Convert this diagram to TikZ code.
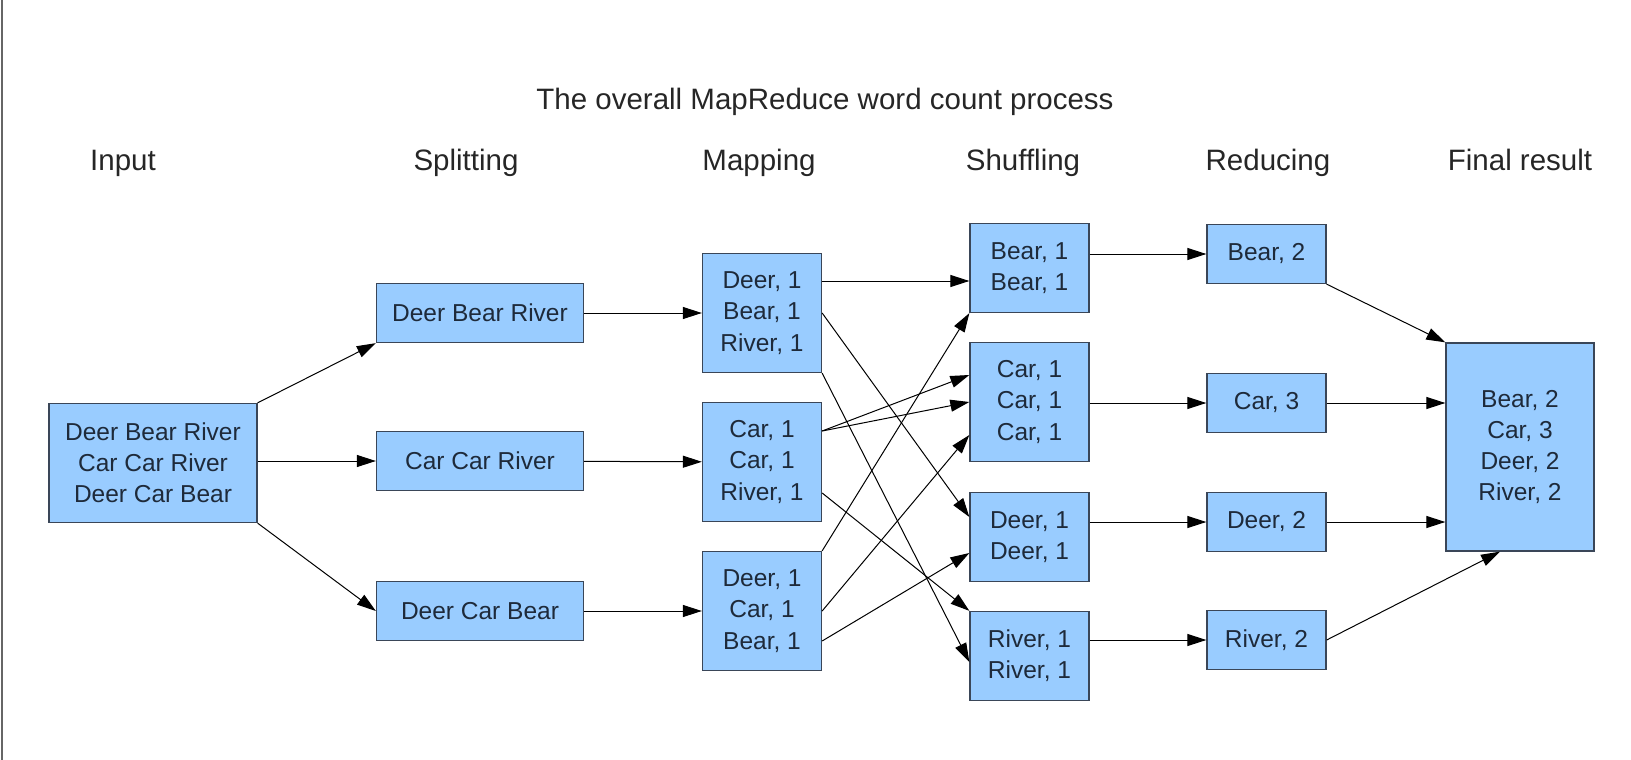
\documentclass[tikz,border=0pt]{standalone}
\usepackage{fontspec}
\setmainfont{Liberation Sans}
\usetikzlibrary{arrows.meta}
\definecolor{boxfill}{RGB}{153,204,255}
\definecolor{boxline}{RGB}{58,70,88}
\definecolor{boxtext}{RGB}{30,42,58}
\tikzstyle{wordbox}=[rectangle, draw=boxline, fill=boxfill, line width=1.3pt, inner sep=0pt, align=center, text=boxtext, font=\fontsize{24.5}{31.2}\selectfont]
\tikzstyle{heading}=[anchor=base, text=black!85, font=\fontsize{29.5}{35}\selectfont]

\begin{document}
\begin{tikzpicture}[x=1pt, y=-1pt, line width=1pt, >={Triangle[length=19pt, width=12pt]}]
                    \useasboundingbox (0,0) rectangle (1631,760);
                    \draw[black!60, line width=2pt] (1.5,0) -- (1.5,760);
                    \node[heading] (title) at (825,110) {The overall MapReduce word count process};
                    \node[heading] (hin) at (123,170) {Input};
                    \node[heading] (hsplit) at (466,170) {Splitting};
                    \node[heading] (hmap) at (759,170) {Mapping};
                    \node[heading] (hshuf) at (1023,170) {Shuffling};
                    \node[heading] (hred) at (1268,170) {Reducing};
                    \node[heading] (hfin) at (1520,170) {Final result};
                    \node[wordbox, minimum width=208pt, minimum height=119pt] (in) at (153,463) {Deer Bear River\\Car Car River\\Deer Car Bear};
                    \node[wordbox, minimum width=207pt, minimum height=59pt] (sp1) at (480,313) {Deer Bear River};
                    \node[wordbox, minimum width=207pt, minimum height=59pt] (sp2) at (480,461) {Car Car River};
                    \node[wordbox, minimum width=207pt, minimum height=59pt] (sp3) at (480,611) {Deer Car Bear};
                    \node[wordbox, minimum width=119pt, minimum height=119pt] (m1) at (762,313) {Deer, 1\\Bear, 1\\River, 1};
                    \node[wordbox, minimum width=119pt, minimum height=119pt] (m2) at (762,462) {Car, 1\\Car, 1\\River, 1};
                    \node[wordbox, minimum width=119pt, minimum height=119pt] (m3) at (762,611) {Deer, 1\\Car, 1\\Bear, 1};
                    \node[wordbox, minimum width=119pt, minimum height=89pt] (s1) at (1029.5,268) {Bear, 1\\Bear, 1};
                    \node[wordbox, minimum width=119pt, minimum height=119pt] (s2) at (1029.5,402) {Car, 1\\Car, 1\\Car, 1};
                    \node[wordbox, minimum width=119pt, minimum height=89pt] (s3) at (1029.5,537) {Deer, 1\\Deer, 1};
                    \node[wordbox, minimum width=119pt, minimum height=89pt] (s4) at (1029.5,656) {River, 1\\River, 1};
                    \node[wordbox, minimum width=119pt, minimum height=59pt] (r1) at (1266.5,254) {Bear, 2};
                    \node[wordbox, minimum width=119pt, minimum height=59pt] (r2) at (1266.5,403) {Car, 3};
                    \node[wordbox, minimum width=119pt, minimum height=59pt] (r3) at (1266.5,522) {Deer, 2};
                    \node[wordbox, minimum width=119pt, minimum height=59pt] (r4) at (1266.5,640) {River, 2};
                    \node[wordbox, minimum width=148pt, minimum height=208pt] (fin) at (1520,447) {Bear, 2\\Car, 3\\Deer, 2\\River, 2};
                    \draw[->] (in.north east) -- (sp1.south west);
                    \draw[->] (in.east |- sp2) -- (sp2);
                    \draw[->] (in.south east) -- (sp3.west);
                    \draw[->] (sp1) -- (m1);
                    \draw[->] (sp2) -- (m2);
                    \draw[->] (sp3) -- (m3);
                    \draw[->] ([yshift=32pt]m1.east) -- ([yshift=-13pt]s1.west);
                    \draw[->] (m1.east) -- ([yshift=20pt]s3.west);
                    \draw[->] (m1.south east) -- ([yshift=-6pt]s4.west);
                    \draw[->] ([yshift=31pt]m2.east) -- ([yshift=27pt]s2.west);
                    \draw[->] ([yshift=31pt]m2.east) -- (s2.west);
                    \draw[->] ([yshift=-31pt]m2.east) -- (s4.north west);
                    \draw[->] (m3.north east) -- (s1.south west);
                    \draw[->] (m3.east) -- ([yshift=-33pt]s2.west);
                    \draw[->] ([yshift=-30pt]m3.east) -- ([yshift=-16pt]s3.west);
                    \draw[->] (s1.east |- r1) -- (r1);
                    \draw[->] (s2.east |- r2) -- (r2);
                    \draw[->] (s3.east |- r3) -- (r3);
                    \draw[->] (s4.east |- r4) -- (r4);
                    \draw[->] (r1.south east) -- (fin.north west);
                    \draw[->] (r2) -- (fin.west |- r2);
                    \draw[->] (r3) -- (fin.west |- r3);
                    \draw[->] (r4.east) -- ([xshift=-20pt]fin.south);
                \end{tikzpicture}
\end{document}
